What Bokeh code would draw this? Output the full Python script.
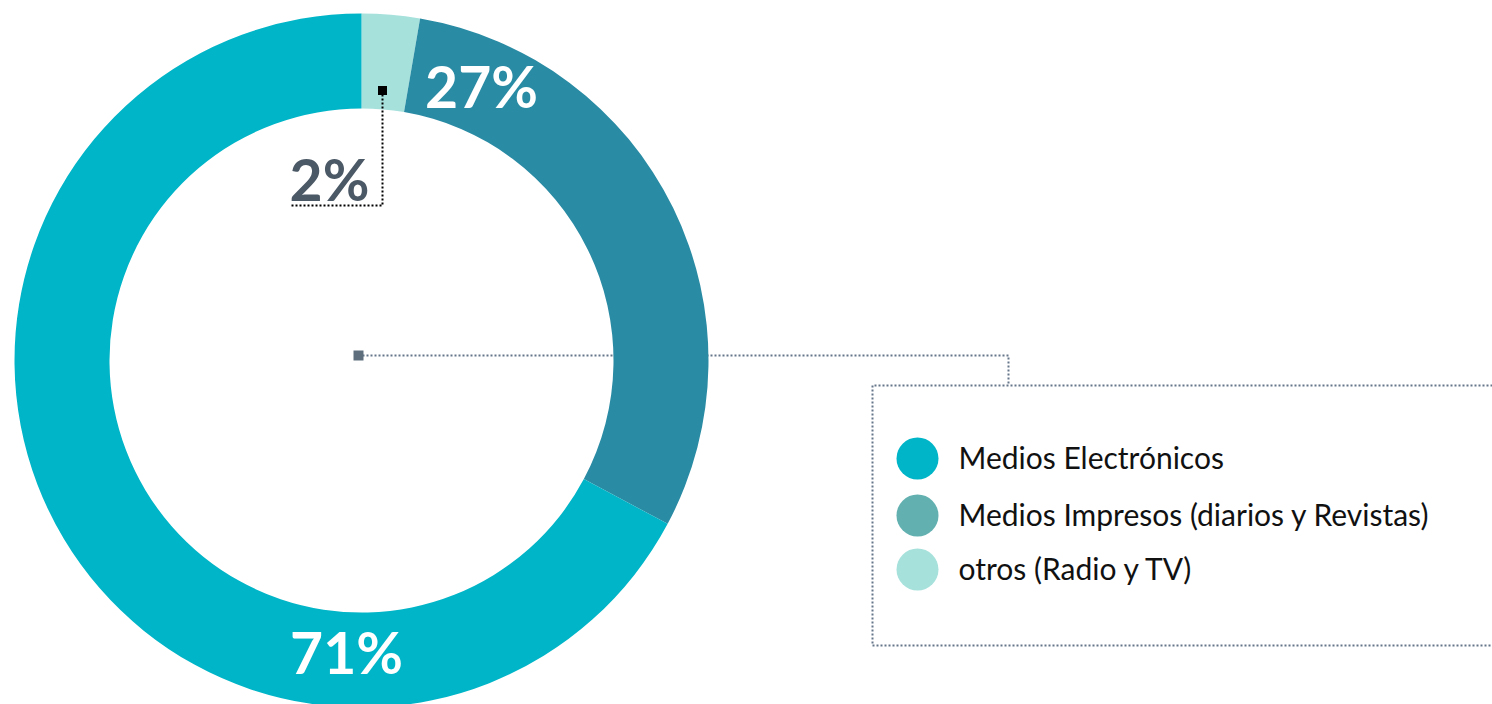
import math
from bokeh.plotting import figure
from bokeh.models import Range1d
from bokeh.core.properties import value
from bokeh.embed import file_html
from bokeh.resources import INLINE

# ---- data ----
categories = ["otros (Radio y TV)", "Medios Impresos (diarios y Revistas)", "Medios Electrónicos"]
shares = [2.7, 30.1, 67.2]            # drawn share of the ring, clockwise from 12 o'clock
labels = ["2%", "27%", "71%"]
slice_colors = ["#A6E1DC", "#2A8BA4", "#00B5C7"]
legend_order = ["Medios Electrónicos", "Medios Impresos (diarios y Revistas)", "otros (Radio y TV)"]
legend_colors = ["#00B5C7", "#62B0B0", "#A6E1DC"]

# ---- layout ----
W, H = 1492, 704
OFF = 0
cx, cy = 361, 360          # screen px of ring centre
r_out, r_in = 347, 252

def X(sx):
    return sx

def Y(sy):
    return -sy

p = figure(width=W, height=H, output_backend="svg", toolbar_location=None,
           x_range=Range1d(OFF, OFF + W), y_range=Range1d(-(OFF + H), -OFF),
           min_border=0)
p.axis.visible = False
p.grid.visible = False
p.outline_line_color = None
p.background_fill_color = "white"
p.border_fill_color = "white"

gray = "#66768A"
# centre marker and dotted leader to legend (drawn under the ring)
p.line([X(cx - 3), X(1008), X(1008)], [Y(355), Y(355), Y(385)],
       line_color=gray, line_width=2, line_dash="2 2")
p.rect([X(cx - 3)], [Y(355)], width=10, height=10, fill_color="#5F6E7C", line_color=None)

# legend box (dotted)
p.line([X(1500), X(872), X(872), X(1500)], [Y(385), Y(385), Y(645), Y(645)],
       line_color=gray, line_width=2, line_dash="2 2")

# ring
starts, ends = [], []
acc = 0.0
for s in shares:
    a0 = math.radians(90 - acc * 3.6)
    acc += s
    a1 = math.radians(90 - acc * 3.6)
    starts.append(a1)
    ends.append(a0)
p.annular_wedge(x=[X(cx)] * 3, y=[Y(cy)] * 3, inner_radius=r_in, outer_radius=r_out,
                start_angle=starts, end_angle=ends, fill_color=slice_colors,
                line_color=None)

# percent labels
font_b = value("Lato")
p.text(x=[X(481)], y=[Y(85)], text=[labels[1]], text_font=font_b, text_font_style="bold",
       text_font_size="57px", text_color="white", text_align="center", text_baseline="middle")
p.text(x=[X(346)], y=[Y(651)], text=[labels[2]], text_font=font_b, text_font_style="bold",
       text_font_size="57px", text_color="white", text_align="center", text_baseline="middle")
p.text(x=[X(329)], y=[Y(178)], text=[labels[0]], text_font=font_b, text_font_style="bold",
       text_font_size="57px", text_color="#4B5865", text_align="center", text_baseline="middle")

# 2% connector
p.line([X(382), X(382), X(290)], [Y(90), Y(205), Y(205)], line_color="black",
       line_width=2, line_dash="2 2")
p.rect([X(382)], [Y(90)], width=9, height=9, fill_color="black", line_color=None)

# legend
ly = [458, 515, 569]
p.scatter(x=[X(917)] * 3, y=[Y(v) for v in ly], size=42, marker="circle",
          fill_color=legend_colors, line_color=None)
p.text(x=[X(958)] * 3, y=[Y(v - 2) for v in ly], text=legend_order, text_font=value("Lato"),
       text_font_size="30px", text_color="#111111", text_align="left", text_baseline="middle")

open("out.html", "w").write(file_html(p, INLINE))
